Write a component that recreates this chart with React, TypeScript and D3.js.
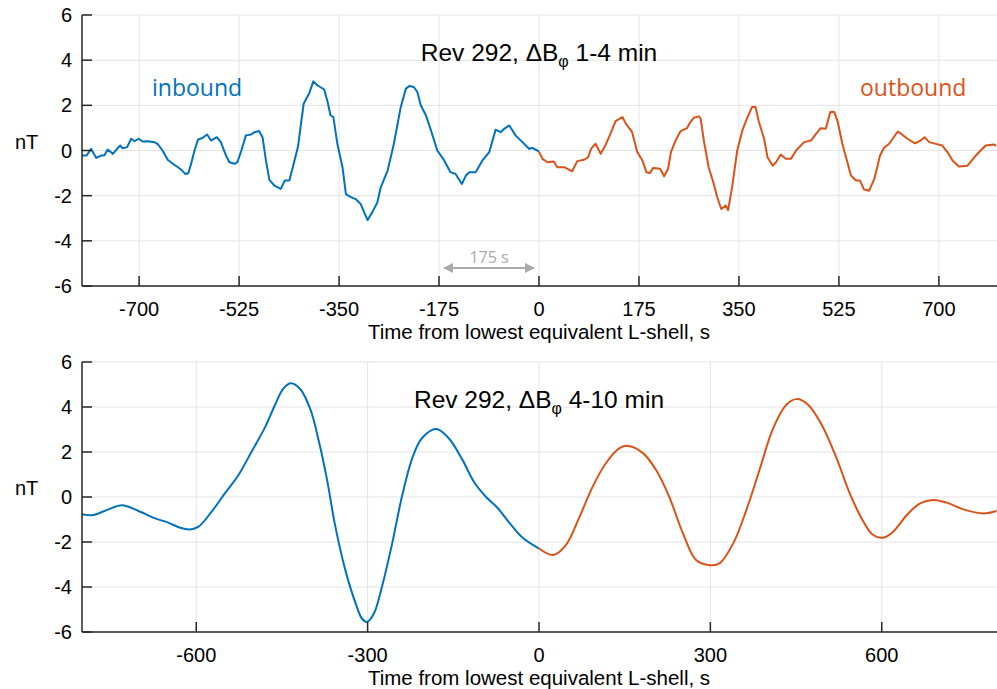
import React from 'react';
import * as d3 from 'd3';

// tick values
const xTicksTop = [-700, -525, -350, -175, 0, 175, 350, 525, 700];
const xTicksBottom = [-600, -300, 0, 300, 600];
const yTicks = [-6, -4, -2, 0, 2, 4, 6];

// Rev 292, dB_phi 1-4 min  [time s, nT]
const inboundFast: [number, number][] = [
  [-801, -0.22], [-792, -0.22], [-784, 0.07], [-775, -0.33], [-766, -0.22], [-761, -0.22],
  [-755, 0.04], [-746, -0.15], [-737, 0.12], [-733, 0.22], [-729, 0.1], [-721, 0.15],
  [-714, 0.52], [-708, 0.41], [-701, 0.52], [-694, 0.4], [-685, 0.41], [-673, 0.37],
  [-667, 0.27], [-659, 0], [-650, -0.41], [-641, -0.59], [-632, -0.74], [-626, -0.86],
  [-619, -1.04], [-614, -1.01], [-609, -0.59], [-603, 0], [-597, 0.49], [-589, 0.55],
  [-581, 0.71], [-574, 0.44], [-564, 0.59], [-557, 0.37], [-548, -0.22], [-542, -0.52],
  [-533, -0.59], [-528, -0.52], [-521, 0], [-513, 0.67], [-504, 0.71], [-498, 0.81],
  [-490, 0.86], [-484, 0.59], [-478, -0.44], [-472, -1.3], [-463, -1.56], [-452, -1.7],
  [-445, -1.33], [-437, -1.33], [-431, -0.74], [-422, 0.15], [-412, 2.07], [-402, 2.55],
  [-395, 3.06], [-388, 2.89], [-376, 2.7], [-370, 2.15], [-365, 1.56], [-360, 1.48],
  [-353, 0.3], [-344, -0.74], [-338, -1.93], [-331, -2.04], [-321, -2.15], [-312, -2.37],
  [-306, -2.74], [-300, -3.08], [-292, -2.74], [-283, -2.3], [-277, -1.63], [-265, -0.89],
  [-254, 0.3], [-242, 1.93], [-233, 2.74], [-227, 2.86], [-219, 2.81], [-213, 2.59],
  [-207, 2.0], [-198, 1.56], [-190, 0.96], [-178, 0], [-166, -0.44], [-155, -0.96],
  [-146, -1.04], [-135, -1.48], [-128, -1.11], [-122, -0.96], [-111, -0.96], [-99, -0.44],
  [-87, -0.07], [-76, 0.92], [-67, 0.81], [-61, 0.96], [-52, 1.11], [-41, 0.67],
  [-29, 0.37], [-17, 0.07], [-12, 0.12], [-3, 0], [0, -0.05],
];

const outboundFast: [number, number][] = [
  [0, -0.05], [6, -0.37], [15, -0.52], [26, -0.49], [32, -0.74], [44, -0.74], [58, -0.92],
  [67, -0.47], [79, -0.41], [86, -0.3], [91, 0.07], [99, 0.3], [108, -0.15], [117, 0.27],
  [125, 0.74], [134, 1.3], [146, 1.48], [152, 1.19], [163, 0.81], [172, -0.07], [181, -0.44],
  [188, -0.96], [194, -1.0], [200, -0.77], [212, -0.81], [219, -1.14], [226, -0.81],
  [231, -0.07], [239, 0.44], [248, 0.86], [259, 0.99], [265, 1.26], [271, 1.45], [280, 1.51],
  [283, 1.41], [289, 0.37], [297, -0.74], [306, -1.48], [312, -2.07], [319, -2.59],
  [327, -2.44], [331, -2.64], [338, -1.63], [347, 0], [356, 0.89], [364, 1.41], [373, 1.93],
  [379, 1.93], [385, 1.26], [394, 0.52], [400, -0.3], [409, -0.67], [415, -0.52],
  [423, -0.18], [432, -0.37], [441, -0.37], [450, 0], [464, 0.37], [476, 0.44], [485, 0.74],
  [493, 0.99], [502, 0.96], [510, 1.7], [517, 1.7], [523, 1.26], [531, 0.3], [539, -0.44],
  [546, -1.11], [555, -1.33], [562, -1.33], [569, -1.73], [578, -1.78], [587, -1.26],
  [597, -0.22], [604, 0.12], [613, 0.3], [628, 0.84], [636, 0.7], [645, 0.52], [658, 0.32],
  [668, 0.44], [675, 0.59], [683, 0.37], [698, 0.27], [706, 0.22], [715, -0.07],
  [724, -0.44], [735, -0.71], [750, -0.67], [762, -0.3], [773, 0], [782, 0.22], [797, 0.27],
  [800, 0.2],
];

// Rev 292, dB_phi 4-10 min
const inboundSlow: [number, number][] = [
  [-801, -0.76], [-780, -0.8], [-754, -0.55], [-730, -0.37], [-702, -0.61], [-672, -0.95],
  [-649, -1.14], [-628, -1.37], [-611, -1.44], [-596, -1.32], [-573, -0.65], [-550, 0.16],
  [-526, 0.98], [-503, 2.02], [-479, 3.13], [-462, 4.1], [-447, 4.84], [-434, 5.06],
  [-418, 4.8], [-400, 3.88], [-386, 2.54], [-371, 0.76], [-357, -1.25], [-339, -3.25],
  [-321, -4.73], [-310, -5.4], [-301, -5.55], [-289, -5.18], [-275, -4.0], [-257, -2.06],
  [-240, 0.01], [-222, 1.72], [-205, 2.61], [-180, 3.02], [-158, 2.61], [-134, 1.65],
  [-114, 0.68], [-93, 0.01], [-72, -0.5], [-52, -1.14], [-29, -1.8], [0, -2.29],
];

const outboundSlow: [number, number][] = [
  [0, -2.29], [25, -2.58], [47, -2.14], [71, -0.88], [94, 0.46], [117, 1.5], [141, 2.17],
  [157, 2.27], [182, 1.95], [205, 1.2], [228, 0.01], [252, -1.62], [275, -2.8],
  [299, -3.03], [316, -2.95], [340, -2.06], [363, -0.58], [386, 1.2], [410, 3.06],
  [433, 4.1], [451, 4.35], [471, 4.1], [495, 3.2], [521, 1.72], [544, 0.16], [568, -1.1],
  [585, -1.69], [602, -1.81], [620, -1.54], [644, -0.8], [667, -0.28], [690, -0.13],
  [714, -0.25], [743, -0.55], [778, -0.73], [801, -0.62],
];

const BLUE = '#0072BD';
const ORANGE = '#D95319';
const AXIS = '#262626';
const GRID = '#e3e3e3';
const FONT = '"Liberation Sans", Arial, Helvetica, sans-serif';
const LABEL_FONT = '"Open Sans", "Noto Sans", sans-serif';

const LEFT = 82;
const RIGHT = 997;

interface PanelProps {
  id: string;
  top: number;
  bottom: number;
  xTicks: number[];
  inbound: [number, number][];
  outbound: [number, number][];
  curve: d3.CurveFactory;
  band: string;
  children?: React.ReactNode;
}

const Panel: React.FC<PanelProps> = ({ id, top, bottom, xTicks, inbound, outbound, curve, band, children }) => {
  const x = d3.scaleLinear().domain([-800, 800]).range([LEFT, RIGHT - 1]);
  const y = d3.scaleLinear().domain([-6, 6]).range([bottom, top]);
  const line = d3.line<[number, number]>()
    .x(d => x(d[0]))
    .y(d => y(d[1]))
    .curve(curve);

  return (
    <g>
      <defs>
        <clipPath id={id}>
          <rect x={LEFT} y={top - 2} width={RIGHT - LEFT} height={bottom - top + 4} />
        </clipPath>
      </defs>

      {/* grid */}
      {xTicks.map(t => (
        <line key={'gx' + t} x1={x(t)} x2={x(t)} y1={top} y2={bottom} stroke={GRID} strokeWidth={1} />
      ))}
      {yTicks.map(t => (
        <line key={'gy' + t} x1={LEFT} x2={RIGHT} y1={y(t)} y2={y(t)} stroke={GRID} strokeWidth={1} />
      ))}

      {/* title */}
      <text x={x(0)} y={top + 46} textAnchor="middle" fontFamily={FONT} fontSize={24.5} fill="#000">
        <tspan>Rev 292, ΔB</tspan>
        <tspan fontSize={16} dy={6}>φ</tspan>
        <tspan dy={-6}>{' ' + band}</tspan>
      </text>

      {/* data */}
      <g clipPath={`url(#${id})`}>
        <path d={line(inbound) || ''} fill="none" stroke={BLUE} strokeWidth={2} strokeLinejoin="round" />
        <path d={line(outbound) || ''} fill="none" stroke={ORANGE} strokeWidth={2} strokeLinejoin="round" />
      </g>

      {children}

      {/* axes */}
      <line x1={LEFT} x2={RIGHT} y1={bottom} y2={bottom} stroke={AXIS} strokeWidth={1.5} />
      <line x1={LEFT} x2={LEFT} y1={top} y2={bottom} stroke={AXIS} strokeWidth={1.5} />
      {xTicks.map(t => (
        <g key={'xt' + t}>
          <line x1={x(t)} x2={x(t)} y1={bottom} y2={bottom - 10} stroke={AXIS} strokeWidth={1.5} />
          <text x={x(t)} y={bottom + 30} textAnchor="middle" fontFamily={FONT} fontSize={20} fill="#000">
            {t}
          </text>
        </g>
      ))}
      {yTicks.map(t => (
        <g key={'yt' + t}>
          <line x1={LEFT} x2={LEFT + 10} y1={y(t)} y2={y(t)} stroke={AXIS} strokeWidth={1.5} />
          <text x={72} y={y(t) + 7} textAnchor="end" fontFamily={FONT} fontSize={20} fill="#000">
            {t}
          </text>
        </g>
      ))}

      <text x={15} y={y(0) - 2} fontFamily={FONT} fontSize={20} fill="#000">nT</text>
      <text x={x(0)} y={bottom + 53} textAnchor="middle" fontFamily={FONT} fontSize={20.5} fill="#000">
        Time from lowest equivalent L-shell, s
      </text>
    </g>
  );
};

const App: React.FC = () => {
  const xTop = d3.scaleLinear().domain([-800, 800]).range([LEFT, RIGHT - 1]);
  const yTop = d3.scaleLinear().domain([-6, 6]).range([286, 15]);
  const arrowY = yTop(-5.2);

  return (
    <svg width={997} height={689} style={{ position: 'absolute', left: 0, top: 0, background: '#fff' }}>
      <defs>
        <marker id="ah" viewBox="0 0 10 10" refX={9} refY={5} markerWidth={5} markerHeight={5} orient="auto-start-reverse">
          <path d="M0,0 L10,5 L0,10 z" fill="#aaaaaa" />
        </marker>
      </defs>
      <rect width={997} height={689} fill="#fff" />

      <Panel id="clipTop" top={15} bottom={286} xTicks={xTicksTop} inbound={inboundFast}
        outbound={outboundFast} curve={d3.curveLinear} band="1-4 min">
        <text x={152} y={96} fontFamily={LABEL_FONT} fontSize={23} fill={BLUE}>inbound</text>
        <text x={860} y={96} fontFamily={LABEL_FONT} fontSize={23} fill={ORANGE}>outbound</text>
        <line x1={xTop(-175) + 5} x2={xTop(0) - 5} y1={arrowY} y2={arrowY} stroke="#aaaaaa" strokeWidth={2}
          markerStart="url(#ah)" markerEnd="url(#ah)" />
        <text x={(xTop(-175) + xTop(0)) / 2} y={arrowY - 5} textAnchor="middle" fontFamily={LABEL_FONT}
          fontSize={16} fill="#aaaaaa">175 s</text>
      </Panel>

      <Panel id="clipBottom" top={362} bottom={632} xTicks={xTicksBottom} inbound={inboundSlow}
        outbound={outboundSlow} curve={d3.curveCatmullRom.alpha(0.5)} band="4-10 min" />
    </svg>
  );
};

export default App;
